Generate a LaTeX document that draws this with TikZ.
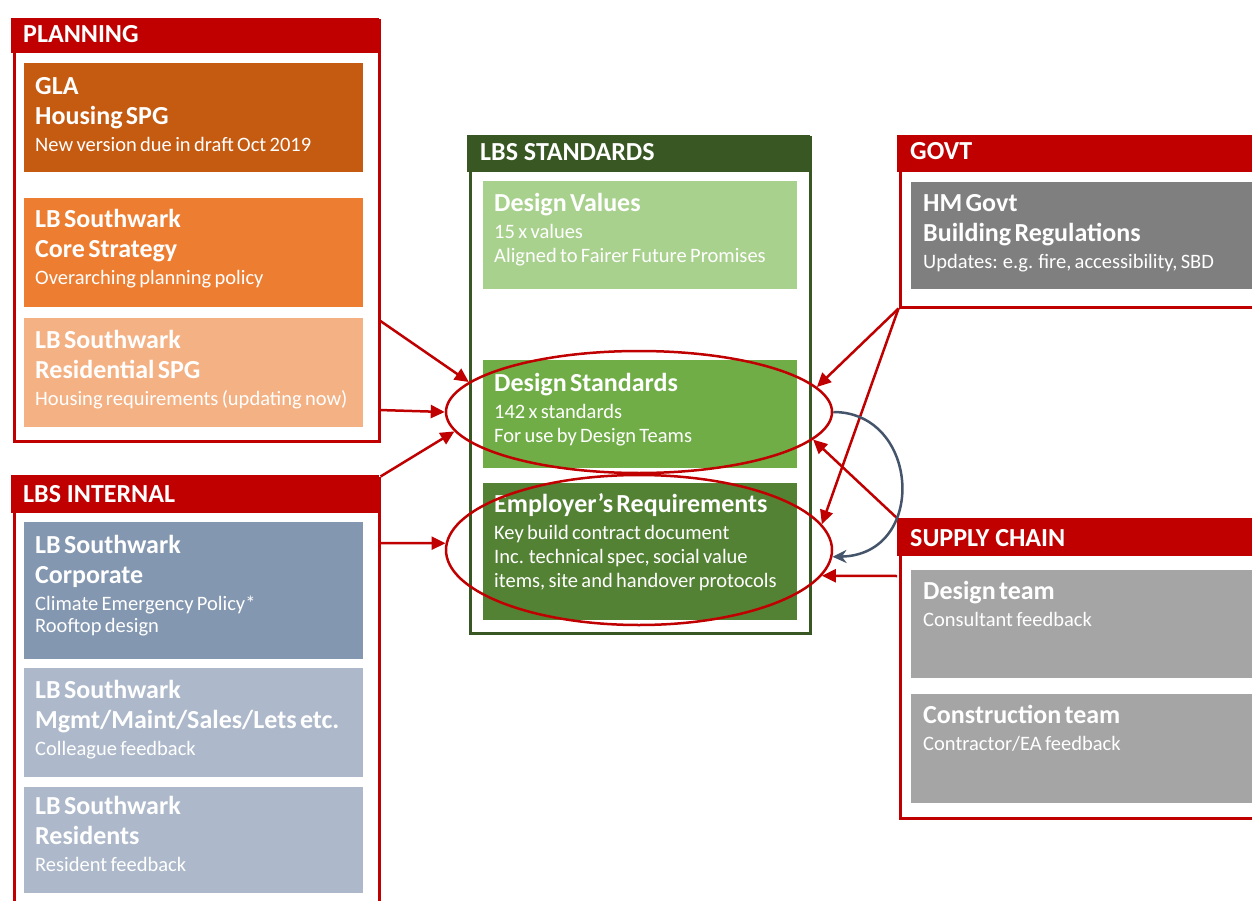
\documentclass[tikz,border=0pt]{standalone}
\usepackage{fontspec}
\setmainfont{Carlito}
\usetikzlibrary{arrows.meta,shapes.geometric,calc}
\definecolor{cred}{HTML}{C00000}
\definecolor{cgla}{HTML}{C55A11}
\definecolor{ccore}{HTML}{ED7D31}
\definecolor{cres}{HTML}{F4B183}
\definecolor{ccorp}{HTML}{8497B0}
\definecolor{cmgmt}{HTML}{ADB9CA}
\definecolor{cgreen}{HTML}{385723}
\definecolor{cdv}{HTML}{A9D18E}
\definecolor{cds}{HTML}{70AD47}
\definecolor{cer}{HTML}{548235}
\definecolor{cgov}{HTML}{7F7F7F}
\definecolor{csup}{HTML}{A5A5A5}
\definecolor{cblue}{HTML}{44546A}
\newcommand\ttl[1]{{\fontsize{26}{30}\selectfont\bfseries #1\par}}
\newcommand\subA[1]{{\fontsize{20.5}{27}\selectfont #1\par}}
\newcommand\subB[1]{{\fontsize{20.5}{24}\selectfont #1\par}}
\begin{document}
\begin{tikzpicture}[x=1pt,y=-1pt,
  grp/.style={draw=#1, line width=3pt, anchor=north west, inner sep=0pt, fill=white},
  bx/.style={fill=#1, anchor=north west, inner sep=0pt, draw=none},
  hd/.style={anchor=base west, inner sep=0pt, text=white, font=\fontsize{26}{30}\selectfont\bfseries},
  txt/.style={anchor=base west, inner sep=0pt, text=white, text width=330pt, align=left},
  ell/.style={ellipse, draw=cred, line width=2.5pt, inner sep=0pt},
  rarrow/.style={draw=cred, line width=2.5pt, -{Triangle[length=14pt,width=13pt]}},
  barrow/.style={draw=cblue, line width=2.5pt, -{Stealth[length=14pt,width=13pt]}}]
\useasboundingbox (0,0) rectangle (1252,901);
\clip (0,0) rectangle (1252,901);
\fill[white] (0,0) rectangle (1252,901);

% groups
\node[grp=cred, minimum width=365pt, minimum height=420pt] (plan) at (12.5,19.5) {};
\node[grp=cred, minimum width=365pt, minimum height=500pt] (int) at (12.5,476.5) {};
\node[grp=cgreen, minimum width=340pt, minimum height=495pt] (std) at (468.5,136.5) {};
\node[grp=cred, minimum width=400pt, minimum height=169pt] (gov) at (898.5,136.5) {};
\node[grp=cred, minimum width=400pt, minimum height=297pt] (sup) at (898.5,519.5) {};

% headers
\fill[cred] (11,18) rectangle (379,53);
\fill[cred] (11,475) rectangle (379,513);
\fill[cgreen] (467,135) rectangle (810,172);
\fill[cred] (897,135) rectangle (1270,172);
\fill[cred] (897,518) rectangle (1270,556);
\node[hd] (planh) at (23,43) {PLANNING};
\node[hd] (inth) at (23,502) {LBS INTERNAL};
\node[hd] (stdh) at (480,161) {LBS STANDARDS};
\node[hd] (govh) at (910,160) {GOVT};
\node[hd] (suph) at (910,546) {SUPPLY CHAIN};

% boxes
\node[bx=cgla, minimum width=339pt, minimum height=109pt] (gla) at (24,63) {};
\node[bx=ccore, minimum width=339pt, minimum height=109pt] (core) at (24,198) {};
\node[bx=cres, minimum width=339pt, minimum height=109pt] (res) at (24,318) {};
\node[bx=ccorp, minimum width=339pt, minimum height=137pt] (corp) at (24,522) {};
\node[bx=cmgmt, minimum width=339pt, minimum height=109pt] (mgmt) at (24,668) {};
\node[bx=cmgmt, minimum width=339pt, minimum height=106pt] (resid) at (24,787) {};
\node[bx=cdv, minimum width=314pt, minimum height=108pt] (dv) at (483,181) {};
\node[bx=cds, minimum width=314pt, minimum height=108pt] (ds) at (483,360) {};
\node[bx=cer, minimum width=314pt, minimum height=137pt] (er) at (483,483) {};
\node[bx=cgov, minimum width=360pt, minimum height=107pt] (hm) at (911,182) {};
\node[bx=csup, minimum width=360pt, minimum height=108pt] (dt) at (911,570) {};
\node[bx=csup, minimum width=360pt, minimum height=109pt] (ct) at (911,694) {};

% texts
\node[txt] (gla-t) at (35,95) {\ttl{GLA}\ttl{Housing SPG}\subA{New version due in draft Oct 2019}};
\node[txt] (core-t) at (35,228) {\ttl{LB Southwark}\ttl{Core Strategy}\subA{Overarching planning policy}};
\node[txt] (res-t) at (35,348) {\ttl{LB Southwark}\ttl{Residential SPG}\subA{Housing requirements (updating now)}};
\node[txt] (corp-t) at (35,553) {\ttl{LB Southwark}\ttl{Corporate}\subA{Climate Emergency Policy*}{\fontsize{20.5}{22}\selectfont Rooftop design\par}};
\node[txt] (mgmt-t) at (35,698) {\ttl{LB Southwark}\ttl{Mgmt/Maint/Sales/Lets etc.}\subA{Colleague feedback}};
\node[txt] (resid-t) at (35,814) {\ttl{LB Southwark}\ttl{Residents}\subA{Resident feedback}};
\node[txt] (dv-t) at (494,212) {\ttl{Design Values}\subA{15 x values}\subB{Aligned to Fairer Future Promises}};
\node[txt] (ds-t) at (494,391) {\ttl{Design Standards}\subA{142 x standards}\subB{For use by Design Teams}};
\node[txt] (er-t) at (494,512) {\ttl{Employer’s Requirements}\subA{Key build contract document}\subB{Inc. technical spec, social value}\subB{items, site and handover protocols}};
\node[txt] (hm-t) at (923,212) {\ttl{HM Govt}\ttl{Building Regulations}\subA{Updates: e.g. fire, accessibility, SBD}};
\node[txt] (dt-t) at (923,599) {\ttl{Design team}\subA{Consultant feedback}};
\node[txt] (ct-t) at (923,723) {\ttl{Construction team}\subA{Contractor/EA feedback}};

% ellipses
\node[ell, minimum width=386pt, minimum height=122pt] (dsE) at (639,412) {};
\node[ell, minimum width=386pt, minimum height=150pt] (erE) at (639,550) {};

% arrow start points
\coordinate (p1) at (379,320);
\coordinate (p2) at (379,410);
\coordinate (p4) at (379,543);
\coordinate (s8) at (897,576);

\draw[rarrow] (p1) -- (dsE.170);
\draw[rarrow] (p2) -- (dsE.180);
\draw[rarrow] (int.north east) -- (dsE.186);
\draw[rarrow] (p4) -- (erE.178);
\draw[rarrow] (gov.south west) -- (dsE.8);
\draw[rarrow] (gov.south west) -- (erE.8);
\draw[rarrow] (sup.north west) -- (dsE.351);
\draw[rarrow] (s8) -- (erE.352);
\draw[barrow] (dsE.east) .. controls (920,412) and (928,555) .. (erE.358);
\end{tikzpicture}
\end{document}
